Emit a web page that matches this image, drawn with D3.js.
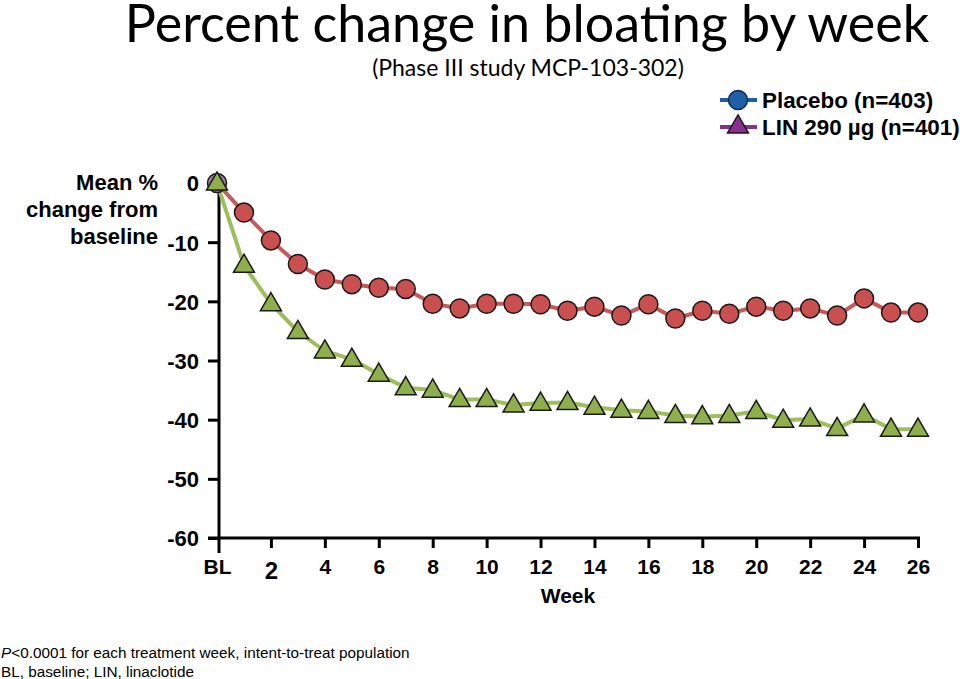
<!DOCTYPE html>
<html><head><meta charset="utf-8">
<script src="https://cdn.jsdelivr.net/npm/d3@7"></script>
<style>body{margin:0;background:#fff}svg{display:block}</style>
</head><body>
<svg id="c" width="960" height="679"></svg>
<script>
const weeks = d3.range(0, 27);
const placebo = [0,-5.0,-9.7,-13.7,-16.3,-17.1,-17.7,-17.9,-20.4,-21.2,-20.4,-20.4,-20.5,-21.6,-20.9,-22.4,-20.5,-22.9,-21.6,-22.1,-20.9,-21.6,-21.2,-22.4,-19.5,-21.9,-21.9];
const lin = [0,-13.9,-20.4,-25.1,-28.4,-29.8,-32.3,-34.6,-35.0,-36.6,-36.6,-37.5,-37.2,-37.1,-37.9,-38.4,-38.6,-39.3,-39.5,-39.3,-38.6,-40.1,-39.9,-41.5,-39.2,-41.6,-41.6];
const yTicks = [0,-10,-20,-30,-40,-50,-60];
const xTicks = [0,2,4,6,8,10,12,14,16,18,20,22,24,26];
const xTickLabels = ["BL","2","4","6","8","10","12","14","16","18","20","22","24","26"];
const legendLabels = ["Placebo (n=403)", "LIN 290 µg (n=401)"];

const svg = d3.select("#c");
const x = d3.scaleLinear().domain([0,26]).range([217,918]);
const y = d3.scaleLinear().domain([0,-60]).range([183,538]);
const F = "'Liberation Sans', Arial, sans-serif";
const T = "Lato, 'Open Sans', sans-serif";

// Title
svg.append("text").attr("x",527).attr("y",42).attr("text-anchor","middle")
  .attr("font-family",T).attr("font-size",52).attr("fill","#000")
  .text("Percent change in bloating by week");
svg.append("text").attr("x",528).attr("y",76).attr("text-anchor","middle")
  .attr("font-family",T).attr("font-size",23).attr("fill","#000")
  .text("(Phase III study MCP-103-302)");

// Y axis
const yAxis = d3.axisLeft(y).tickValues(yTicks).tickSize(11).tickPadding(9).tickFormat(d=>String(d));
const gy = svg.append("g").attr("transform","translate(219,0)").call(yAxis);
gy.select(".domain").remove();
gy.append("line").attr("x1",0).attr("x2",0).attr("y1",y(0)).attr("y2",553).attr("stroke","#000").attr("stroke-width",3);
gy.selectAll(".tick line").attr("stroke","#000").attr("stroke-width",3);
gy.selectAll(".tick text").attr("font-family",F).attr("font-weight","bold").attr("font-size",22).attr("fill","#000").attr("dy","0.36em");

// X axis
const xAxis = d3.axisBottom(x).tickValues(xTicks).tickSize(10).tickPadding(11).tickFormat((d,i)=>xTickLabels[i]);
const gx = svg.append("g").attr("transform","translate(0,538)").call(xAxis);
gx.select(".domain").remove();
gx.append("line").attr("x1",208).attr("x2",x(26)+2).attr("y1",0).attr("y2",0).attr("stroke","#000").attr("stroke-width",3);
gx.selectAll(".tick line").attr("stroke","#000").attr("stroke-width",3);
gx.selectAll(".tick text").attr("font-family",F).attr("font-weight","bold").attr("fill","#000")
  .attr("font-size",(d)=> d===2 ? 24 : 21).attr("dy",(d)=> d===2 ? "0.85em" : "0.71em");
gx.selectAll(".tick").filter(d=>d===0).select("line").remove();

svg.append("text").attr("x",568).attr("y",603).attr("text-anchor","middle")
  .attr("font-family",F).attr("font-weight","bold").attr("font-size",21).text("Week");

// Y title
const yt = svg.append("text").attr("font-family",F).attr("font-weight","bold").attr("font-size",22).attr("text-anchor","end");
["Mean %","change from","baseline"].forEach((t,i)=>yt.append("tspan").attr("x",158).attr("y",190+i*27).text(t));

// Lines
const line = d3.line().x((d,i)=>x(weeks[i])).y(d=>y(d));
svg.append("path").datum(placebo).attr("d",line).attr("fill","none").attr("stroke","#C65A5A").attr("stroke-width",4);
svg.append("path").datum(lin).attr("d",line).attr("fill","none").attr("stroke","#9CBF5A").attr("stroke-width",4);

const tri = d3.symbol().type(d3.symbolTriangle).size(190);
// Placebo markers
svg.selectAll(".pc").data(placebo).enter().append("circle")
  .attr("cx",(d,i)=>x(weeks[i])).attr("cy",d=>y(d)).attr("r",9.5)
  .attr("fill",(d,i)=> i===0 ? "#A07FA0" : "#C9504F").attr("stroke","#1a1a1a").attr("stroke-width",1.5);
// LIN markers
svg.selectAll(".lt").data(lin).enter().append("path")
  .attr("d",tri).attr("transform",(d,i)=>`translate(${x(weeks[i])},${y(d)+1})`)
  .attr("fill","#8DB04A").attr("stroke","#1a1a1a").attr("stroke-width",1.5);

// Legend
const lg = svg.append("g");
const lcol = ["#1F5FA8","#8B2F8F"];
legendLabels.forEach((t,i)=>{
  const yy = 100 + i*27;
  lg.append("line").attr("x1",720).attr("x2",757).attr("y1",yy).attr("y2",yy).attr("stroke",lcol[i]).attr("stroke-width",4);
  if(i===0){
    lg.append("circle").attr("cx",738).attr("cy",yy).attr("r",9.5).attr("fill","#1F5FA8").attr("stroke","#0d2a50").attr("stroke-width",1.5);
  } else {
    lg.append("path").attr("d",tri).attr("transform",`translate(738,${yy})`).attr("fill","#8B2F8F").attr("stroke","#1a1a1a").attr("stroke-width",1.5);
  }
  lg.append("text").attr("x",762).attr("y",yy+8).attr("font-family",F).attr("font-weight","bold").attr("font-size",22.4).text(t);
});

// Footnotes
const f1 = svg.append("text").attr("x",1).attr("y",658).attr("font-family",F).attr("font-size",15.3);
f1.append("tspan").attr("font-style","italic").text("P");
f1.append("tspan").text("<0.0001 for each treatment week, intent-to-treat population");
svg.append("text").attr("x",1).attr("y",677).attr("font-family",F).attr("font-size",15.3).text("BL, baseline; LIN, linaclotide");
</script>
</body></html>
